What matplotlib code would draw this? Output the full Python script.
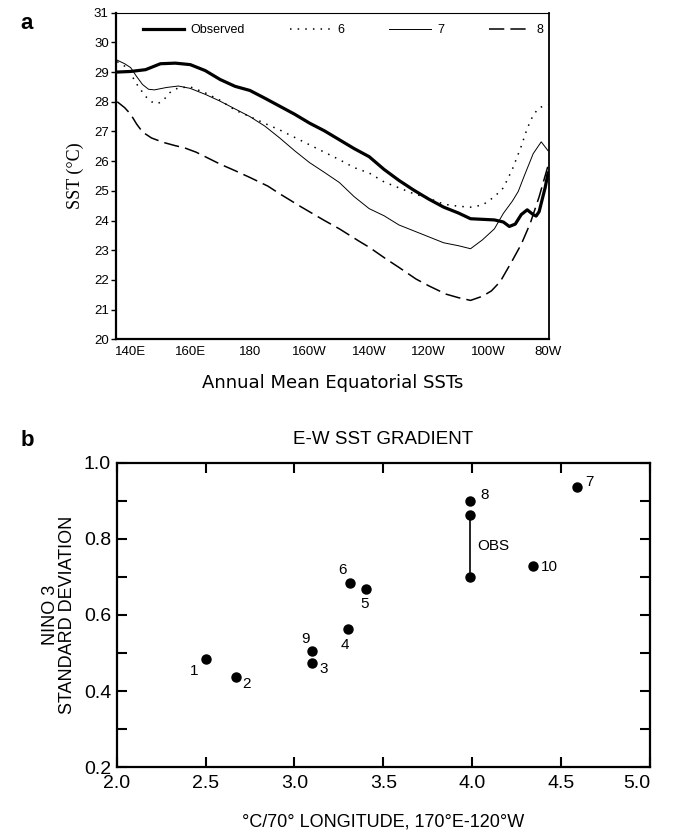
"""Equatorial SST profiles (a) and Nino-3 variability vs E-W gradient (b)."""
import matplotlib
matplotlib.use("Agg")
import matplotlib.pyplot as plt
from matplotlib.ticker import MultipleLocator

NARROW = ["Liberation Sans Narrow", "Liberation Sans", "DejaVu Sans"]
HELV = ["Liberation Sans", "DejaVu Sans"]

# --- panel a data: longitude (deg E) vs SST (degC) ---
obs_lon = [135.5, 140, 145, 150, 155, 160, 165, 170, 175, 180, 185, 190, 195, 200,
           205, 210, 215, 220, 225, 230, 235, 240, 245, 250, 254, 258, 262, 265,
           267, 269, 271, 273, 275, 276, 277, 278, 279, 280]
obs_sst = [29.00, 29.02, 29.08, 29.28, 29.30, 29.25, 29.05, 28.75, 28.52, 28.38,
           28.12, 27.85, 27.58, 27.28, 27.02, 26.72, 26.42, 26.15, 25.72, 25.35,
           25.02, 24.72, 24.45, 24.25, 24.06, 24.04, 24.02, 23.95, 23.80, 23.88,
           24.20, 24.36, 24.20, 24.15, 24.30, 24.70, 25.10, 25.60]

m6_lon = [135.5, 138, 140, 142, 145, 147, 149, 151, 153, 156, 160, 165, 170, 175,
          180, 185, 190, 195, 200, 205, 210, 215, 220, 225, 230, 235, 240, 245,
          250, 254, 258, 262, 265, 268, 271, 273, 275, 277, 280]
m6_sst = [29.35, 29.20, 28.95, 28.60, 28.18, 28.00, 27.93, 28.05, 28.30, 28.47,
          28.50, 28.30, 28.05, 27.72, 27.50, 27.27, 27.05, 26.80, 26.55, 26.30,
          26.05, 25.78, 25.60, 25.30, 25.10, 24.90, 24.75, 24.55, 24.48, 24.45,
          24.52, 24.80, 25.10, 25.72, 26.50, 27.10, 27.55, 27.80, 27.90]

m7_lon = [135.5, 138, 140, 142, 144, 146, 148, 152, 156, 160, 165, 170, 175, 180,
          185, 190, 195, 200, 205, 210, 215, 220, 225, 230, 235, 240, 245, 250,
          254, 258, 262, 265, 268, 270, 272, 275, 277.7, 280]
m7_sst = [29.40, 29.28, 29.15, 28.85, 28.58, 28.42, 28.40, 28.48, 28.53, 28.45,
          28.25, 28.02, 27.76, 27.50, 27.18, 26.78, 26.35, 25.95, 25.62, 25.28,
          24.80, 24.40, 24.16, 23.85, 23.65, 23.45, 23.25, 23.15, 23.05, 23.35,
          23.72, 24.24, 24.65, 24.98, 25.50, 26.25, 26.65, 26.35]

m8_lon = [135.5, 138, 140, 142, 144, 147, 151, 155, 158, 162, 166, 170, 175, 180,
          186, 190, 197, 205, 210, 217, 220, 225.6, 230, 235.7, 240, 245.8, 250,
          254, 258, 261, 264, 268, 271, 274, 277, 280]
m8_sst = [28.00, 27.80, 27.58, 27.25, 26.98, 26.78, 26.63, 26.52, 26.45, 26.30,
          26.10, 25.90, 25.68, 25.45, 25.16, 24.90, 24.47, 24.00, 23.72, 23.28,
          23.10, 22.71, 22.42, 22.03, 21.80, 21.52, 21.40, 21.31, 21.45, 21.63,
          21.95, 22.65, 23.20, 23.90, 24.80, 25.85]

lon_ticks = [140, 160, 180, 200, 220, 240, 260, 280]
lon_labels = ["140E", "160E", "180", "160W", "140W", "120W", "100W", "80W"]

# --- panel b data: model runs ---
run_ids = ["1", "2", "3", "4", "5", "6", "7", "8", "9", "10"]
gradient = [2.50, 2.67, 3.10, 3.30, 3.40, 3.31, 4.59, 3.99, 3.10, 4.34]
nino3_sd = [0.485, 0.437, 0.473, 0.562, 0.668, 0.685, 0.936, 0.900, 0.505, 0.730]
label_offsets = [(-8, -9), (8, -5), (8, -4), (-2, -11), (-1, -11), (-5, 9),
                 (9, 4), (10, 4), (-5, 9), (12, -1)]
obs_gradient = 3.99
obs_range = [0.700, 0.862]
grad_ticks = [2.0, 2.5, 3.0, 3.5, 4.0, 4.5, 5.0]
sd_ticks = [0.2, 0.4, 0.6, 0.8, 1.0]

fig = plt.figure(figsize=(6.74, 8.39), dpi=100)
fig.patch.set_facecolor("white")

# ================= panel a =================
ax = fig.add_axes([0.1717, 0.5956, 0.6428, 0.3893])
ax.plot(obs_lon, obs_sst, color="black", lw=2.3, label="Observed",
        solid_joinstyle="round")
ax.plot(m6_lon, m6_sst, color="black", lw=1.1, linestyle=(0, (1, 4)), label="6")
ax.plot(m7_lon, m7_sst, color="black", lw=0.7, label="7")
ax.plot(m8_lon, m8_sst, color="black", lw=1.1, linestyle=(0, (10, 4)), label="8")

ax.set_xlim(135, 280.3)
ax.set_ylim(20, 31)
ax.set_yticks(range(20, 32))
ax.set_xticks(lon_ticks)
ax.set_xticklabels(lon_labels)
ax.tick_params(axis="y", direction="out", length=3.5, width=1, pad=1.5,
               labelsize=9.5)
ax.tick_params(axis="x", length=0, pad=5, labelsize=9.5)
for lab in ax.get_xticklabels() + ax.get_yticklabels():
    lab.set_family(NARROW)
ax.spines["left"].set_linewidth(1.6)
ax.spines["bottom"].set_linewidth(1.6)
ax.spines["top"].set_linewidth(0.8)
ax.spines["right"].set_linewidth(1.3)

ax.set_ylabel("SST (°C)", family=["Liberation Serif", "DejaVu Serif"],
              fontsize=13, labelpad=7)
ax.set_xlabel("Annual Mean Equatorial SSTs", fontsize=13, labelpad=11,
              family="DejaVu Sans")

ax.legend(loc="center left", bbox_to_anchor=(0.063, 0.947), ncol=4,
          frameon=False, borderpad=0, borderaxespad=0, handlelength=3.3,
          handletextpad=0.5, columnspacing=3.6,
          prop={"family": NARROW, "size": 9})

fig.text(0.030, 0.985, "a", fontsize=16, fontweight="bold", va="top",
         family=HELV)

# ================= panel b =================
bx = fig.add_axes([0.1731, 0.0858, 0.7913, 0.3624])
bx.plot(gradient, nino3_sd, "o", color="black", ms=6.5, zorder=3)
for rid, gx, gy, off in zip(run_ids, gradient, nino3_sd, label_offsets):
    bx.annotate(rid, (gx, gy), xytext=off, textcoords="offset points",
                ha="center", va="center", fontsize=11, family=HELV)

bx.plot([obs_gradient, obs_gradient], obs_range, "-o", color="black", lw=1.2,
        ms=6.5, zorder=3)
bx.annotate("OBS", (obs_gradient, sum(obs_range) / 2), xytext=(5, 0),
            textcoords="offset points", ha="left", va="center", fontsize=11,
            family=HELV)

bx.set_xlim(2.0, 5.0)
bx.set_ylim(0.2, 1.0)
bx.set_xticks(grad_ticks)
bx.set_yticks(sd_ticks)
bx.yaxis.set_minor_locator(MultipleLocator(0.1))
bx.tick_params(which="both", direction="in", top=True, right=True,
               length=7, width=1.5, labelsize=14, pad=6)
bx.tick_params(axis="y", which="major", pad=4)
bx.set_xticklabels([f"{v:.1f}" for v in grad_ticks])
bx.set_yticklabels([f"{v:.1f}" for v in sd_ticks])
for lab in bx.get_xticklabels() + bx.get_yticklabels():
    lab.set_family(HELV)
# last x label sits inside the frame edge in the original
bx.get_xticklabels()[-1].set_horizontalalignment("right")
for sp in bx.spines.values():
    sp.set_linewidth(1.6)

bx.set_title("E-W SST GRADIENT", fontsize=13.5, family=HELV, pad=14)
bx.set_xlabel("°C/70° LONGITUDE, 170°E-120°W", fontsize=13, family=HELV,
              labelpad=15)
bx.set_ylabel("NINO 3\nSTANDARD DEVIATION", fontsize=13, family=HELV,
              labelpad=6, linespacing=1.0)

fig.text(0.030, 0.487, "b", fontsize=16, fontweight="bold", va="top",
         family=HELV)

fig.savefig("out.png", dpi=100, facecolor="white")
print("saved out.png")
